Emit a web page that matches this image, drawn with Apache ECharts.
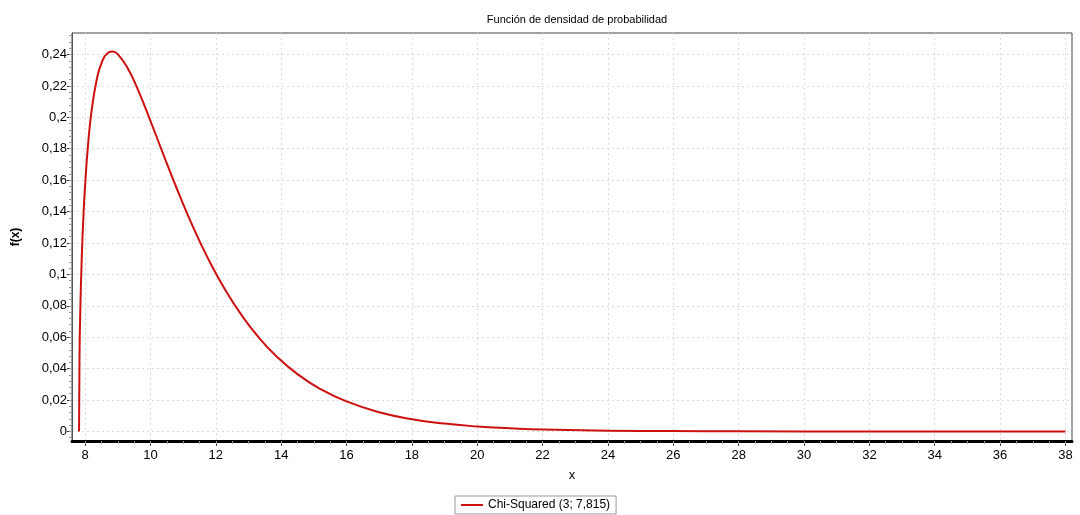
<!DOCTYPE html>
<html>
<head>
<meta charset="utf-8">
<script src="https://cdn.jsdelivr.net/npm/echarts@6/dist/echarts.min.js"></script>
<style>
  html, body { margin: 0; padding: 0; background: #fff; }
  #chart { width: 1080px; height: 515px; }
</style>
</head>
<body>
<div id="chart"></div>
<script>
// Datos: Chi-Squared (3; 7,815)
const xValues = [7.815, 7.83, 7.85, 7.9, 7.95, 8.0, 8.1, 8.2, 8.35, 8.5, 8.7, 8.85, 9.0, 9.3, 9.6,
  10.0, 10.4, 10.8, 11.3, 11.8, 12.3, 12.8, 13.3, 13.8, 14.5, 15.2, 16.0, 17.0, 18.0, 19.0,
  20.0, 21.0, 22.0, 24.0, 26.0, 28.0, 32.0, 38.0];
const densityValues = [0, 0.0485, 0.0733, 0.1115, 0.137, 0.1565, 0.1847, 0.2042, 0.2233, 0.2344, 0.2411, 0.2419, 0.2402, 0.2314, 0.2184,
  0.1978, 0.1761, 0.155, 0.1304, 0.1086, 0.0897, 0.0737, 0.0602, 0.049, 0.0365, 0.027, 0.0191, 0.0122, 0.0078, 0.005,
  0.0031, 0.002, 0.0012, 0.0005, 0.0002, 0.0001, 0, 0];

// Marcas de los ejes
const xTicks = [8, 10, 12, 14, 16, 18, 20, 22, 24, 26, 28, 30, 32, 34, 36, 38];
const yTicks = [0, 0.02, 0.04, 0.06, 0.08, 0.1, 0.12, 0.14, 0.16, 0.18, 0.2, 0.22, 0.24];

const seriesName = 'Chi-Squared (3; 7,815)';

const X_MIN = 7.6, X_MAX = 38.2;
const Y_MIN = -0.0061, Y_MAX = 0.2537;

// Marcas menores (cada 0,5 en x, cada 0,004 en y)
const xMinor = [];
for (let v = 7.5; v <= X_MAX; v += 0.5) if (v >= X_MIN) xMinor.push(+v.toFixed(2));
const yMinor = [];
for (let v = -0.004; v <= Y_MAX; v += 0.004) if (v >= Y_MIN) yMinor.push(+v.toFixed(4));

const font = "'Liberation Sans', Arial, sans-serif";
const fmt = v => String(+v.toFixed(2)).replace('.', ',');

const chart = echarts.init(document.getElementById('chart'));

const option = {
  animation: false,
  backgroundColor: '#fff',
  title: {
    text: 'Función de densidad de probabilidad',
    left: 572,
    textAlign: 'center',
    top: 9,
    textStyle: { fontFamily: font, fontSize: 11, fontWeight: 'normal', color: '#000' }
  },
  legend: {
    data: [seriesName],
    left: 455,
    top: 496,
    padding: [3, 6, 3, 6],
    borderColor: '#999',
    borderWidth: 1,
    borderRadius: 0,
    icon: 'rect',
    itemWidth: 22,
    itemHeight: 2,
    itemGap: 4,
    textStyle: { fontFamily: font, fontSize: 12, color: '#000' }
  },
  grid: {
    left: 72, right: 8, top: 33, bottom: 74,
    show: true,
    borderColor: '#444',
    borderWidth: 1
  },
  xAxis: [{
    type: 'value',
    min: X_MIN, max: X_MAX,
    name: 'x',
    nameLocation: 'middle',
    nameGap: 28,
    nameTextStyle: { fontFamily: font, fontSize: 13, color: '#000' },
    axisLine: { show: true, onZero: false, lineStyle: { color: '#000', width: 3 } },
    axisTick: { show: true, customValues: xTicks, length: 5, lineStyle: { color: '#333' } },
    axisLabel: {
      customValues: xTicks, formatter: fmt, margin: 8,
      fontFamily: font, fontSize: 13, color: '#000'
    },
    splitLine: { show: true, lineStyle: { color: '#dcdcdc', type: [2, 3] } }
  }, {
    type: 'value',
    min: X_MIN, max: X_MAX,
    position: 'bottom',
    axisLine: { show: false, onZero: false },
    axisTick: { show: true, customValues: xMinor, length: 3, lineStyle: { color: '#999' } },
    axisLabel: { show: false },
    splitLine: { show: false }
  }],
  yAxis: [{
    type: 'value',
    min: Y_MIN, max: Y_MAX,
    name: 'f(x)',
    nameLocation: 'middle',
    nameGap: 50,
    nameRotate: 90,
    nameTextStyle: { fontFamily: font, fontSize: 12, fontWeight: 'bold', color: '#000' },
    axisLine: { show: true, onZero: false, lineStyle: { color: '#555', width: 1 } },
    axisTick: { show: true, customValues: yTicks, length: 5, lineStyle: { color: '#333' } },
    axisLabel: {
      customValues: yTicks, formatter: fmt, margin: 5,
      fontFamily: font, fontSize: 13, color: '#000'
    },
    splitLine: { show: true, lineStyle: { color: '#dcdcdc', type: [2, 3] } }
  }, {
    type: 'value',
    min: Y_MIN, max: Y_MAX,
    position: 'left',
    axisLine: { show: false, onZero: false },
    axisTick: { show: true, customValues: yMinor, length: 3, lineStyle: { color: '#999' } },
    axisLabel: { show: false },
    splitLine: { show: false }
  }],
  series: [{
    name: seriesName,
    type: 'line',
    xAxisIndex: 0,
    yAxisIndex: 0,
    smooth: true,
    symbol: 'none',
    lineStyle: { color: '#cc1111', width: 2 },
    itemStyle: { color: '#cc1111' },
    data: xValues.map((x, i) => [x, densityValues[i]])
  }]
};

chart.setOption(option);
</script>
</body>
</html>
